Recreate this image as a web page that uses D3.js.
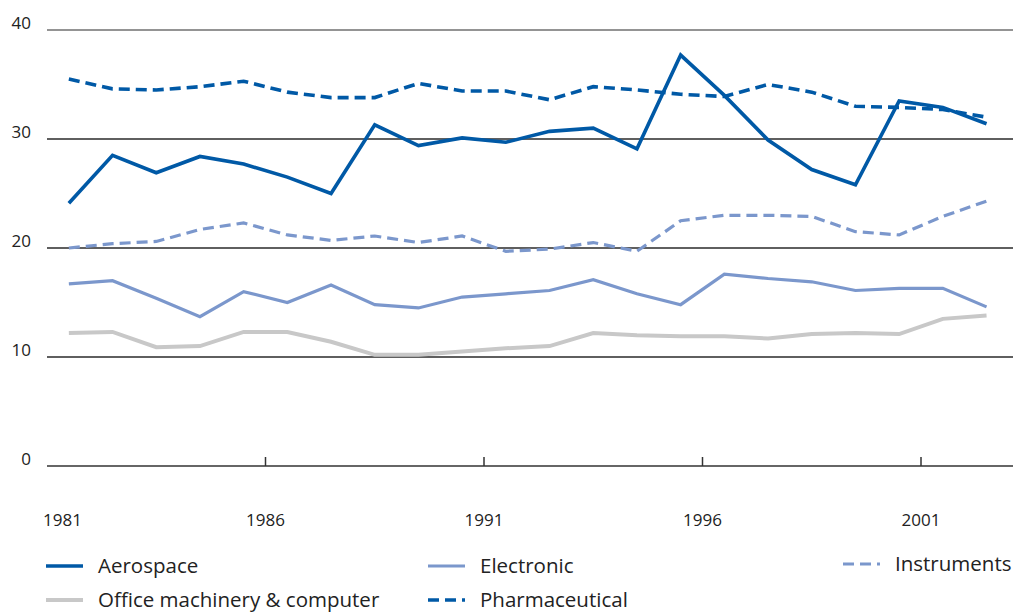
<!DOCTYPE html>
<html>
<head>
<meta charset="utf-8">
<script src="https://cdn.jsdelivr.net/npm/d3@7"></script>
<style>
  body { margin: 0; background: #fff; }
  svg text { font-family: "Open Sans", "Noto Sans", sans-serif; fill: #222; }
</style>
</head>
<body>
<svg id="chart"></svg>
<script>
// data (share, %)
var years = d3.range(1981, 2003);
var aerospace      = [24.1, 28.5, 26.9, 28.4, 27.7, 26.5, 25.0, 31.3, 29.4, 30.1, 29.7, 30.7, 31.0, 29.1, 37.7, 34.0, 29.9, 27.2, 25.8, 33.5, 32.9, 31.4];
var pharmaceutical = [35.5, 34.6, 34.5, 34.8, 35.3, 34.3, 33.8, 33.8, 35.1, 34.4, 34.4, 33.6, 34.8, 34.5, 34.1, 33.9, 35.0, 34.3, 33.0, 32.9, 32.7, 32.0];
var instruments    = [20.0, 20.4, 20.6, 21.7, 22.3, 21.2, 20.7, 21.1, 20.5, 21.1, 19.7, 19.9, 20.5, 19.7, 22.5, 23.0, 23.0, 22.9, 21.5, 21.2, 22.9, 24.3];
var electronic     = [16.7, 17.0, 15.4, 13.7, 16.0, 15.0, 16.6, 14.8, 14.5, 15.5, 15.8, 16.1, 17.1, 15.8, 14.8, 17.6, 17.2, 16.9, 16.1, 16.3, 16.3, 14.6];
var office         = [12.2, 12.3, 10.9, 11.0, 12.3, 12.3, 11.4, 10.2, 10.2, 10.5, 10.8, 11.0, 12.2, 12.0, 11.9, 11.9, 11.7, 12.1, 12.2, 12.1, 13.5, 13.8];
var yTicks = [0, 10, 20, 30, 40];
var xTickYears = [1981, 1986, 1991, 1996, 2001];

var width = 1016, height = 613;
var svg = d3.select("#chart").attr("width", width).attr("height", height);

// 系列の設定
var series = [
  {name: "Office machinery & computer", values: office,         color: "#c8c8c8", w: 4,   dash: null},
  {name: "Electronic",                  values: electronic,     color: "#7b97cc", w: 3.2, dash: null},
  {name: "Instruments",                 values: instruments,    color: "#7b97cc", w: 3.2, dash: "11,6"},
  {name: "Pharmaceutical",              values: pharmaceutical, color: "#0059a6", w: 3.6, dash: "11,6"},
  {name: "Aerospace",                   values: aerospace,      color: "#0059a6", w: 3.6, dash: null}
];

var x = d3.scaleBand().domain(years).range([47, 47 + 22 * 43.7]);
var y = d3.scaleLinear().domain([0, 40]).range([466, 30]);

// gridlines
svg.selectAll(".grid")
  .data(yTicks.filter(function(d){ return d > 0; }))
  .enter().append("line")
  .attr("x1", 47).attr("x2", 1013)
  .attr("y1", function(d){ return y(d); })
  .attr("y2", function(d){ return y(d); })
  .attr("stroke", function(d){ return d == 40 ? "#707070" : "#2a2a2a"; })
  .attr("stroke-width", 1.5);

// y labels
svg.selectAll(".ylab")
  .data(yTicks)
  .enter().append("text")
  .attr("x", 31)
  .attr("y", function(d){ return y(d) - 1; })
  .attr("text-anchor", "end")
  .style("font-size", "17px")
  .text(function(d){ return d; });

// x axis
var xAxis = d3.axisBottom(x)
  .tickValues(xTickYears.slice(1))
  .tickSize(-9)
  .tickFormat("");
var gx = svg.append("g").attr("transform", "translate(0,466)").call(xAxis);
gx.select(".domain").remove();
gx.selectAll(".tick").attr("transform", function(d){ return "translate(" + x(d) + ",0)"; });
gx.selectAll(".tick line").attr("stroke", "#333").attr("stroke-width", 1.5);
svg.append("line")
  .attr("x1", 47).attr("x2", 1013).attr("y1", 466).attr("y2", 466)
  .attr("stroke", "#333").attr("stroke-width", 1.5);

svg.selectAll(".xlab")
  .data(xTickYears)
  .enter().append("text")
  .attr("x", function(d, i){ return i == 0 ? 43 : x(d); })
  .attr("y", 526)
  .attr("text-anchor", function(d, i){ return i == 0 ? "start" : "middle"; })
  .style("font-size", "17px")
  .text(function(d){ return d; });

// lines
var line = d3.line()
  .x(function(d, i){ return x(years[i]) + x.bandwidth() / 2; })
  .y(function(d){ return y(d); });

svg.selectAll(".series")
  .data(series)
  .enter().append("path")
  .attr("d", function(s){ return line(s.values); })
  .attr("fill", "none")
  .attr("stroke", function(s){ return s.color; })
  .attr("stroke-width", function(s){ return s.w; })
  .attr("stroke-dasharray", function(s){ return s.dash; })
  .attr("stroke-linejoin", "miter");

// legend
var legendPos = {
  "Aerospace": [46, 566],
  "Office machinery & computer": [46, 600],
  "Electronic": [428, 566],
  "Pharmaceutical": [428, 600],
  "Instruments": [843, 564]
};
var lg = svg.selectAll(".legend")
  .data(series)
  .enter().append("g")
  .attr("transform", function(s){ var p = legendPos[s.name]; return "translate(" + p[0] + "," + p[1] + ")"; });
lg.append("line")
  .attr("x1", 0).attr("x2", 37)
  .attr("stroke", function(s){ return s.color; })
  .attr("stroke-width", function(s){ return s.w; })
  .attr("stroke-dasharray", function(s){ return s.dash; });
lg.append("text")
  .attr("x", 52)
  .attr("y", 7)
  .style("font-size", "20.5px")
  .text(function(s){ return s.name; });
</script>
</body>
</html>
